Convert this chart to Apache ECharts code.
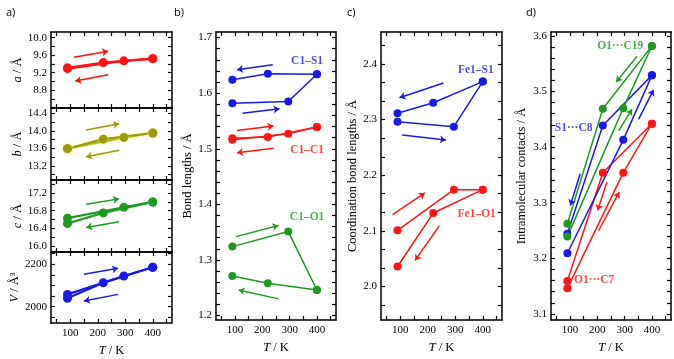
<!DOCTYPE html>
<html>
<head>
<meta charset="utf-8">
<script src="https://cdn.jsdelivr.net/npm/echarts@6/dist/echarts.min.js"></script>
<style>
  html, body { margin: 0; padding: 0; background: #fff; }
  #container { width: 674px; height: 359px; }
</style>
</head>
<body>
<div id="container"></div>
<script>
// temperatures: heating run skips 220 K, cooling run skips 295 K
var tempHeat = [90, 295, 400];
var tempCool = [400, 220, 90];

// a) cell parameters
var aHeat = [9.29, 9.47, 9.52],   aCool = [9.52, 9.43, 9.31];
var bHeat = [13.60, 13.85, 13.95], bCool = [13.95, 13.81, 13.59];
var cHeat = [16.63, 16.88, 17.00], cCool = [17.00, 16.75, 16.51];
var vHeat = [2058, 2145, 2186],   vCool = [2186, 2113, 2040];

// b) bond lengths
var c1s1Heat = [1.582, 1.585, 1.634], c1s1Cool = [1.634, 1.635, 1.624];
var c1c1Heat = [1.516, 1.527, 1.539], c1c1Cool = [1.539, 1.521, 1.519];
var c1o1Heat = [1.324, 1.351, 1.246], c1o1Cool = [1.246, 1.258, 1.271];

// c) coordination bond lengths
var fe1s1Heat = [2.296, 2.287, 2.368], fe1s1Cool = [2.368, 2.330, 2.311];
var fe1o1Heat = [2.101, 2.174, 2.174], fe1o1Cool = [2.174, 2.132, 2.036];

// d) intramolecular contacts
var o1c19Heat = [3.239, 3.470, 3.582], o1c19Cool = [3.582, 3.469, 3.262];
var s1c8Heat  = [3.209, 3.413, 3.529], s1c8Cool  = [3.529, 3.439, 3.244];
var o1c7Heat  = [3.146, 3.354, 3.442], o1c7Cool  = [3.442, 3.354, 3.159];

// tick labels / tick positions
var xLabels = [100, 200, 300, 400];
var xTicks = [50, 100, 150, 200, 250, 300, 350, 400, 450];
var aLabels = [8.8, 9.2, 9.6, 10.0], aTicks = [8.4, 8.6, 8.8, 9.0, 9.2, 9.4, 9.6, 9.8, 10.0];
var bLabels = [13.2, 13.6, 14.0, 14.4], bTicks = [13.0, 13.2, 13.4, 13.6, 13.8, 14.0, 14.2, 14.4];
var cLabels = [16.0, 16.4, 16.8, 17.2], cTicks = [16.0, 16.2, 16.4, 16.6, 16.8, 17.0, 17.2, 17.4];
var vLabels = [2000, 2200], vTicks = [1950, 2000, 2050, 2100, 2150, 2200, 2250];
var blLabels = [1.2, 1.3, 1.4, 1.5, 1.6, 1.7];
var blTicks = [1.2, 1.22, 1.24, 1.26, 1.28, 1.3, 1.32, 1.34, 1.36, 1.38, 1.4, 1.42, 1.44, 1.46, 1.48,
               1.5, 1.52, 1.54, 1.56, 1.58, 1.6, 1.62, 1.64, 1.66, 1.68, 1.7];
var cbLabels = [2.0, 2.1, 2.2, 2.3, 2.4];
var cbTicks = [1.967, 2.0, 2.033, 2.067, 2.1, 2.133, 2.167, 2.2, 2.233, 2.267, 2.3, 2.333, 2.367, 2.4, 2.433];
var icLabels = [3.1, 3.2, 3.3, 3.4, 3.5, 3.6];
var icTicks = [3.1, 3.12, 3.14, 3.16, 3.18, 3.2, 3.22, 3.24, 3.26, 3.28, 3.3, 3.32, 3.34, 3.36, 3.38,
               3.4, 3.42, 3.44, 3.46, 3.48, 3.5, 3.52, 3.54, 3.56, 3.58, 3.6];

// heating / cooling arrows, in data units [[T1, y1], [T2, y2]]
var aArrows = [[[114, 9.55], [238, 9.69]], [[238, 9.15], [118, 9.01]]];
var bArrows = [[[158, 14.02], [278, 14.16]], [[278, 13.56], [158, 13.41]]];
var cArrows = [[[158, 16.95], [278, 17.07]], [[278, 16.55], [158, 16.42]]];
var vArrows = [[[150, 2153], [274, 2181]], [[274, 2058], [150, 2027]]];
var c1s1Arrows = [[[238, 1.651], [107, 1.642]], [[127, 1.564], [263, 1.572]]];
var c1c1Arrows = [[[107, 1.533], [241, 1.541]], [[241, 1.501], [107, 1.493]]];
var c1o1Arrows = [[[103, 1.342], [259, 1.362]], [[259, 1.230], [113, 1.246]]];
var fe1s1Arrows = [[[257, 2.3655], [97, 2.339]], [[107, 2.272], [266, 2.263]]];
var fe1o1Arrows = [[[72, 2.129], [190, 2.168]], [[242, 2.109], [154, 2.047]]];
var o1c19Arrows = [[[345, 3.563], [269, 3.517]], [[278, 3.429], [327, 3.468]]];
var s1c8Arrows = [[[351, 3.450], [406, 3.503]], [[137, 3.352], [101, 3.295]]];
var o1c7Arrows = [[[235, 3.337], [201, 3.286]], [[205, 3.250], [280, 3.319]]];

// series labels [T, y, text]
var bNames = [[364, 1.658, 'C1–S1'], [364, 1.498, 'C1–C1'], [364, 1.377, 'C1–O1']];
var cNames = [[375, 2.389, 'Fe1–S1'], [378, 2.131, 'Fe1–O1']];
var dNames = [[284, 3.582, 'O1···C19'], [113, 3.435, 'S1···C8'], [188, 3.161, 'O1···C7']];

var RED = '#ff1414', OLIVE = '#9a9a10', GREEN = '#1e9b1e', BLUE = '#1a1ae6';
var SERIF = '"Liberation Serif", "DejaVu Serif", serif';

var dom = document.getElementById('container');
var myChart = echarts.init(dom);

var grids = [
  {left: 51, top: 32, width: 121, height: 76},
  {left: 51, top: 108, width: 121, height: 72},
  {left: 51, top: 180, width: 121, height: 72},
  {left: 51, top: 252, width: 121, height: 71},
  {left: 216, top: 32, width: 120, height: 290},
  {left: 381, top: 32, width: 121, height: 290},
  {left: 551, top: 32, width: 120, height: 290}
];

var yCfg = [
  {min: 8.39, max: 10.13, labels: aLabels, ticks: aTicks, name: '{i|a} / Å', gap: 26, dec: 1},
  {min: 12.88, max: 14.52, labels: bLabels, ticks: bTicks, name: '{i|b} / Å', gap: 26, dec: 1},
  {min: 15.86, max: 17.5, labels: cLabels, ticks: cTicks, name: '{i|c} / Å', gap: 26, dec: 1},
  {min: 1923, max: 2258, labels: vLabels, ticks: vTicks, name: '{i|V} / Å³', gap: 26, dec: 0},
  {min: 1.192, max: 1.71, labels: blLabels, ticks: blTicks, name: 'Bond lengths / Å', gap: 22, dec: 1},
  {min: 1.94, max: 2.457, labels: cbLabels, ticks: cbTicks, name: 'Coordination bond lengths / Å', gap: 22, dec: 1},
  {min: 3.089, max: 3.607, labels: icLabels, ticks: icTicks, name: 'Intramolecular contacts / Å', gap: 23, dec: 1}
];

var axLine = {show: true, onZero: false, lineStyle: {color: '#000', width: 1.5}};
var tickStyle = {color: '#000', width: 1.2};
var nameStyle = {fontFamily: SERIF, fontSize: 12.5, color: '#000',
  rich: {i: {fontFamily: SERIF, fontSize: 12.5, fontStyle: 'italic', color: '#000'}}};

var xAxes = [], yAxes = [];
grids.forEach(function (g, i) {
  var bottomLabels = (i >= 3);
  xAxes.push({
    type: 'value', gridIndex: i, position: 'bottom', min: 30, max: 470,
    axisLine: axLine,
    axisTick: {show: true, inside: true, length: 4, customValues: xTicks, lineStyle: tickStyle},
    axisLabel: {show: bottomLabels, customValues: xLabels, margin: 5, fontFamily: SERIF, fontSize: 11, color: '#000'},
    splitLine: {show: false},
    name: bottomLabels ? '{i|T} / K' : '', nameLocation: 'middle', nameGap: 21, nameTextStyle: nameStyle
  });
  xAxes.push({
    type: 'value', gridIndex: i, position: 'top', min: 30, max: 470,
    axisLine: axLine,
    axisTick: {show: true, inside: true, length: 4, customValues: xTicks, lineStyle: tickStyle},
    axisLabel: {show: false}, splitLine: {show: false}
  });
  var c = yCfg[i];
  yAxes.push({
    type: 'value', gridIndex: i, position: 'left', min: c.min, max: c.max,
    axisLine: axLine,
    axisTick: {show: true, inside: true, length: 4, customValues: c.ticks, lineStyle: tickStyle},
    axisLabel: {show: true, customValues: c.labels, margin: 4, fontFamily: SERIF, fontSize: 11, color: '#000',
      formatter: (function (d) { return function (v) { return Number(v).toFixed(d); }; })(c.dec)},
    splitLine: {show: false},
    name: c.name, nameLocation: 'middle', nameGap: c.gap, nameTextStyle: nameStyle
  });
  yAxes.push({
    type: 'value', gridIndex: i, position: 'right', min: c.min, max: c.max,
    axisLine: axLine,
    axisTick: {show: true, inside: true, length: 4, customValues: c.ticks, lineStyle: tickStyle},
    axisLabel: {show: false}, splitLine: {show: false}
  });
});

function pts(ts, vs) {
  return ts.map(function (t, k) { return [t, vs[k]]; });
}

var series = [];
function addLine(g, ts, vs, color, width, size, glow) {
  var s = {
    type: 'line', xAxisIndex: 2 * g, yAxisIndex: 2 * g,
    data: pts(ts, vs), symbol: 'circle', symbolSize: size, showSymbol: true,
    lineStyle: {color: color, width: width},
    itemStyle: {color: color},
    animation: false, z: 3
  };
  if (glow) {
    s.lineStyle.shadowColor = 'rgba(255,255,120,0.8)';
    s.lineStyle.shadowBlur = 3;
    s.itemStyle.shadowColor = 'rgba(255,255,120,0.8)';
    s.itemStyle.shadowBlur = 3;
  }
  series.push(s);
}
function addPair(g, heat, cool, color, width, size, glow) {
  addLine(g, tempHeat, heat, color, width, size, glow);
  addLine(g, tempCool, cool, color, width, size, glow);
}
function addArrows(g, arr, color, glow) {
  series.push({
    type: 'lines', coordinateSystem: 'cartesian2d', xAxisIndex: 2 * g, yAxisIndex: 2 * g,
    symbol: ['none', 'arrow'], symbolSize: [5, 6],
    lineStyle: {color: color, width: 1.5, opacity: 1,
      shadowColor: glow ? 'rgba(255,255,120,0.8)' : 'transparent', shadowBlur: glow ? 3 : 0},
    data: arr.map(function (a) { return {coords: a}; }),
    animation: false, z: 4
  });
}
function addNames(g, names, colors) {
  names.forEach(function (n, k) {
    series.push({
      type: 'scatter', xAxisIndex: 2 * g, yAxisIndex: 2 * g,
      data: [[n[0], n[1]]], symbolSize: 1, itemStyle: {color: 'transparent'},
      label: {show: true, position: 'inside', formatter: n[2], color: colors[k],
        fontFamily: SERIF, fontSize: 11.5, fontWeight: 'bold'},
      silent: true, animation: false, z: 5
    });
  });
}

addPair(0, aHeat, aCool, RED, 2.2, 9);    addArrows(0, aArrows, RED);
addPair(1, bHeat, bCool, OLIVE, 2.2, 9, true); addArrows(1, bArrows, OLIVE, true);
addPair(2, cHeat, cCool, GREEN, 2.2, 9);  addArrows(2, cArrows, GREEN);
addPair(3, vHeat, vCool, BLUE, 2.2, 9);   addArrows(3, vArrows, BLUE);

addPair(4, c1s1Heat, c1s1Cool, BLUE, 1.5, 8);  addArrows(4, c1s1Arrows, BLUE);
addPair(4, c1c1Heat, c1c1Cool, RED, 1.5, 8);   addArrows(4, c1c1Arrows, RED);
addPair(4, c1o1Heat, c1o1Cool, GREEN, 1.5, 8); addArrows(4, c1o1Arrows, GREEN);
addNames(4, bNames, [BLUE, RED, GREEN]);

addPair(5, fe1s1Heat, fe1s1Cool, BLUE, 1.5, 8); addArrows(5, fe1s1Arrows, BLUE);
addPair(5, fe1o1Heat, fe1o1Cool, RED, 1.5, 8);  addArrows(5, fe1o1Arrows, RED);
addNames(5, cNames, [BLUE, RED]);

addPair(6, o1c7Heat, o1c7Cool, RED, 1.5, 8);     addArrows(6, o1c7Arrows, RED);
addPair(6, s1c8Heat, s1c8Cool, BLUE, 1.5, 8);    addArrows(6, s1c8Arrows, BLUE);
addPair(6, o1c19Heat, o1c19Cool, GREEN, 1.5, 8); addArrows(6, o1c19Arrows, GREEN);
addNames(6, dNames, [GREEN, BLUE, RED]);

var panelFont = {fontFamily: '"Open Sans", "Liberation Sans", sans-serif', fontSize: 11, fontWeight: 'normal', color: '#000'};
var option = {
  backgroundColor: '#fff',
  animation: false,
  title: [
    {text: 'a)', left: 1, top: 2, textStyle: panelFont},
    {text: 'b)', left: 169, top: 2, textStyle: panelFont},
    {text: 'c)', left: 342, top: 2, textStyle: panelFont},
    {text: 'd)', left: 521, top: 2, textStyle: panelFont}
  ],
  grid: grids,
  xAxis: xAxes,
  yAxis: yAxes,
  series: series
};

if (option && typeof option === 'object') {
  myChart.setOption(option, true);
}
</script>
</body>
</html>
